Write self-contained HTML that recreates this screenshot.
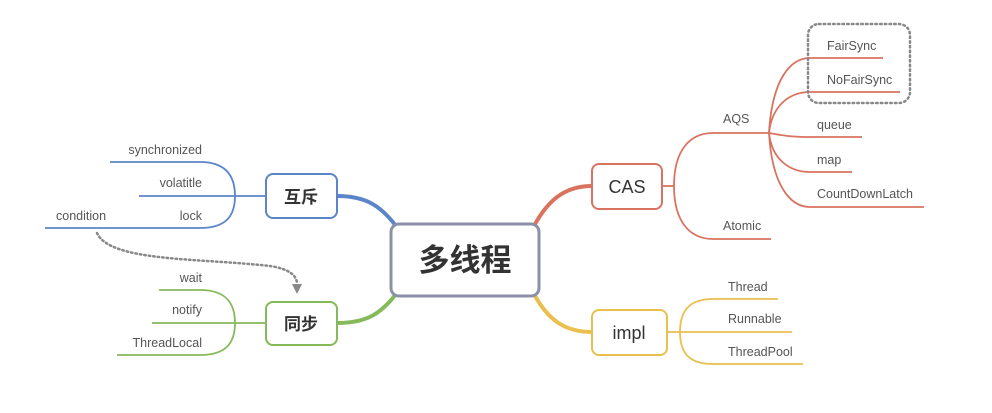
<!DOCTYPE html>
<html><head><meta charset="utf-8"><style>
html,body{margin:0;padding:0;background:#fff;}
svg{display:block;}
text{font-family:"Liberation Sans","Noto Sans CJK SC",sans-serif;fill:#555;font-size:12.5px;}
</style></head><body>
<svg width="992" height="413" viewBox="0 0 992 413" xmlns="http://www.w3.org/2000/svg">
<rect width="992" height="413" fill="#fff"/>
<path d="M337,196 C365,196 380,205 396,226" stroke="#5b85c8" stroke-width="4" fill="none"/>
<path d="M337,323 C365,323 380,315 396,294" stroke="#86b95a" stroke-width="4" fill="none"/>
<path d="M534,226 C548,200 565,186 592,186" stroke="#d9735f" stroke-width="4" fill="none"/>
<path d="M534,294 C548,320 565,332 592,332" stroke="#e9bf4e" stroke-width="4" fill="none"/>

<g stroke="#5b85c8" stroke-width="1.8" fill="none">
<path d="M265,196 L235,196 C235,175 225,162 200,162 L110,162"/>
<path d="M235,196 L139,196"/>
<path d="M235,196 C235,217 225,228 200,228 L45,228"/>
</g>
<g stroke="#86b95a" stroke-width="1.8" fill="none">
<path d="M265,323 L235,323 C235,302 225,290 200,290 L159,290"/>
<path d="M235,323 L152,323"/>
<path d="M235,323 C235,344 225,355 200,355 L117,355"/>
</g>
<path d="M97,233 C110,262 200,258 270,266 C290,269 297,276 297,284" stroke="#888" stroke-width="2.5" stroke-dasharray="1.5,3" fill="none" stroke-linecap="round"/>
<path d="M292,284 L302,284 L297,294 Z" fill="#888"/>

<g stroke="#d9735f" stroke-width="1.8" fill="none">
<path d="M662,186 L674,186"/>
<path d="M674,186 C674,150 690,133 713,133 L769,133"/>
<path d="M674,186 C674,222 690,239 713,239 L771,239"/>
<path d="M769,133 C772,80 790,58 810,58 L883,58"/>
<path d="M769,133 C772,105 790,92 810,92 L900,92"/>
<path d="M769,133 C780,135 790,137 810,137 L862,137"/>
<path d="M769,133 C772,160 790,172 810,172 L852,172"/>
<path d="M769,133 C772,185 790,207 810,207 L924,207"/>
</g>
<rect x="808" y="24" width="102" height="79" rx="11" fill="none" stroke="#888" stroke-width="2.5" stroke-dasharray="1.5,3.2" stroke-linecap="round"/>

<g stroke="#e9bf4e" stroke-width="1.8" fill="none">
<path d="M667,332 L680,332 C680,310 690,299 713,299 L778,299"/>
<path d="M680,332 L792,332"/>
<path d="M680,332 C680,354 690,364 713,364 L803,364"/>
</g>

<rect x="391" y="224" width="148" height="72" rx="8" fill="#fff" stroke="#8c90a6" stroke-width="3"/>
<text x="465" y="271" text-anchor="middle" style="font-size:31px;font-weight:bold;fill:#333">多线程</text>
<rect x="266" y="174" width="71" height="44" rx="7" fill="#fff" stroke="#5b85c8" stroke-width="2"/>
<text x="301" y="203" text-anchor="middle" style="font-size:17px;fill:#333;font-weight:bold">互斥</text>
<rect x="266" y="302" width="71" height="43" rx="7" fill="#fff" stroke="#86b95a" stroke-width="2"/>
<text x="301" y="330" text-anchor="middle" style="font-size:17px;fill:#333;font-weight:bold">同步</text>
<rect x="592" y="164" width="70" height="45" rx="7" fill="#fff" stroke="#d9735f" stroke-width="2"/>
<text x="627" y="193" text-anchor="middle" style="font-size:18px;fill:#333">CAS</text>
<rect x="592" y="310" width="75" height="45" rx="7" fill="#fff" stroke="#e9bf4e" stroke-width="2"/>
<text x="629" y="339" text-anchor="middle" style="font-size:18px;fill:#333">impl</text>

<text x="202" y="154" text-anchor="end">synchronized</text>
<text x="202" y="187" text-anchor="end">volatitle</text>
<text x="202" y="220" text-anchor="end">lock</text>
<text x="56" y="220">condition</text>
<text x="202" y="282" text-anchor="end">wait</text>
<text x="202" y="314" text-anchor="end">notify</text>
<text x="202" y="347" text-anchor="end">ThreadLocal</text>

<text x="723" y="123">AQS</text>
<text x="723" y="230">Atomic</text>
<text x="827" y="50">FairSync</text>
<text x="827" y="84">NoFairSync</text>
<text x="817" y="129">queue</text>
<text x="817" y="164">map</text>
<text x="817" y="198">CountDownLatch</text>
<text x="728" y="291">Thread</text>
<text x="728" y="323">Runnable</text>
<text x="728" y="356">ThreadPool</text>
</svg>
</body></html>
